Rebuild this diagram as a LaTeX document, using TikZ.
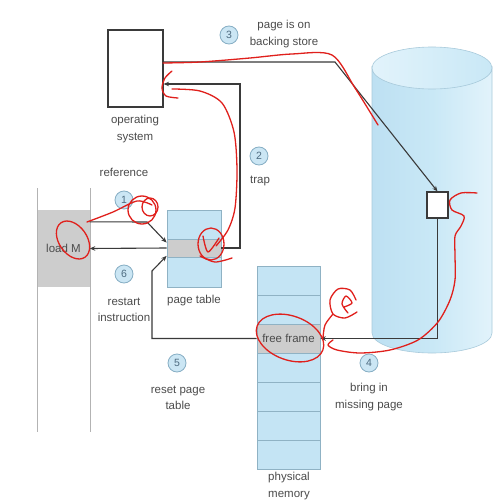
\documentclass[tikz,border=0pt]{standalone}
\usepackage{fontspec}
\setmainfont{Liberation Sans}
\usetikzlibrary{arrows.meta,calc}
\definecolor{txt}{HTML}{4c4c4c}
\definecolor{lineclr}{HTML}{3a3a3a}
\definecolor{numfill}{HTML}{cbe6f4}
\definecolor{numdraw}{HTML}{86aec4}
\definecolor{numtxt}{HTML}{4d6b80}
\definecolor{ptfill}{HTML}{c4e4f4}
\definecolor{ptdraw}{HTML}{8fb2c4}
\definecolor{grayfill}{HTML}{cdcdcd}
\definecolor{progline}{HTML}{b3b3b3}
\definecolor{cylA}{HTML}{bde0f2}
\definecolor{cylB}{HTML}{e2f3fb}
\definecolor{cylC}{HTML}{c9e8f6}
\definecolor{cyldraw}{HTML}{a8cadb}
\definecolor{scrib}{HTML}{e0201c}
\tikzset{
  lbl/.style={font=\fontsize{11.5}{16.5}\selectfont, text=txt, align=center, inner sep=0pt},
  stepnum/.style={circle, draw=numdraw, fill=numfill, line width=0.8pt, minimum size=18pt, inner sep=0pt, font=\fontsize{10.5}{10.5}\selectfont, text=numtxt},
  conn/.style={draw=lineclr, line width=1.1pt},
  arr/.style={conn, -{Stealth[length=5.5pt,width=4.5pt]}},
  boxline/.style={draw=lineclr, line width=1.1pt, fill=white},
  ptcell/.style={draw=ptdraw, fill=ptfill, line width=0.8pt, inner sep=0pt},
  graycell/.style={draw=ptdraw, fill=grayfill, line width=0.8pt, inner sep=0pt},
  scribble/.style={draw=scrib, line width=1.3pt, line cap=round, line join=round}
}
\begin{document}
\begin{tikzpicture}[x=1pt,y=-1pt]
\useasboundingbox[fill=white] (0,0) rectangle (493,503);

% backing store cylinder
\path[left color=cylA, right color=cylB, middle color=cylC, draw=cyldraw, line width=0.6pt]
  (372,68) -- (372,333) arc[start angle=180,end angle=0,x radius=60,y radius=20]
  -- (492,68) arc[start angle=0,end angle=180,x radius=60,y radius=20] -- cycle;
\path[left color=cylB, right color=cylC, draw=cyldraw, line width=0.6pt]
  (432,68) ellipse[x radius=60,y radius=21];

% operating system
\node[boxline, minimum width=55pt, minimum height=77pt, inner sep=0pt] (os) at (135.5,68.5) {};
\node[lbl] (oslbl) at (135,129) {operating\\system};

% program
\draw[progline, line width=0.9pt] (37,188) -- (37,432);
\draw[progline, line width=0.9pt] (90,188) -- (90,432);
\node[fill=grayfill, minimum width=52pt, minimum height=77pt, inner sep=0pt,
      font=\fontsize{11.5}{14}\selectfont, text=txt] (loadm) at (63.5,248.5) {load M};

% page table
\node[ptcell, minimum width=54pt, minimum height=77pt] (pt) at (194,248.5) {};
\node[graycell, minimum width=54pt, minimum height=18pt] (ptrow) at (194,248) {};
\node[lbl] (ptlbl) at (194,301) {page table};

% physical memory
\foreach \i in {0,...,6}{
  \node[ptcell, minimum width=63pt, minimum height=29pt] (m\i) at (288.5,{280.5+29*\i}) {};
}
\node[graycell, minimum width=63pt, minimum height=29pt, font=\fontsize{11.5}{14}\selectfont, text=txt] (ff) at (m2) {free frame};
\node[lbl] (memlbl) at (289,486) {physical\\memory};

% page on disk
\node[boxline, minimum width=21pt, minimum height=26pt, inner sep=0pt] (dbox) at (437.5,205) {};

% connectors
\draw[arr] ($(loadm.north east)+(0,12)$) -- (147,222) -- ($(ptrow.north west)+(0,4)$);
\draw[arr] (ptrow.east) -- (240,248) -- (240,84) -- ($(os.east)+(0,15.5)$);
\draw[arr] ($(os.east)+(0,-6.5)$) -- (335,62) -- (dbox.north);
\draw[arr] (dbox.south) |- (ff.east);
\draw[arr] (ff.west) -- (152,338.5) -- (152,271) -- ($(ptrow.south west)+(0,-1.5)$);
\draw[arr] (ptrow.west) -- (loadm.east);

% step labels
\node[stepnum] (n1) at (124,200) {1};
\node[lbl] (l1) at (124,172) {reference};
\node[stepnum] (n2) at (259,156) {2};
\node[lbl] (l2) at (260,181) {trap};
\node[stepnum] (n3) at (229,35) {3};
\node[lbl] (l3) at (284,34) {page is on\\backing store};
\node[stepnum] (n4) at (369,363) {4};
\node[lbl] (l4) at (369,397) {bring in\\missing page};
\node[stepnum] (n5) at (177,363) {5};
\node[lbl] (l5) at (178,398) {reset page\\table};
\node[stepnum] (n6) at (124,274) {6};
\node[lbl] (l6) at (124,310) {restart\\instruction};

% red hand-drawn annotations
\draw[scribble] plot[smooth] coordinates {(163,63) (200,62) (250,58) (292,54) (332,55) (355,88) (378,125)};
\draw[scribble] plot[smooth] coordinates {(172,71) (165,78) (162,88) (166,96) (178,98)};
\draw[scribble] plot[smooth] coordinates {(172,89) (200,91) (222,103) (234,132) (237,170) (235,208) (228,230) (216,246)};
\draw[scribble] (211,244) ellipse[x radius=13,y radius=16];
\draw[scribble] plot[smooth] coordinates {(203,236) (208,252) (219,238)};
\draw[scribble] plot[smooth] coordinates {(200,256) (215,262) (232,258)};
\draw[scribble] plot[smooth] coordinates {(87,222) (113,212) (137,201) (152,205)};
\draw[scribble] (142,210) ellipse[x radius=14,y radius=14];
\draw[scribble] (150,207) ellipse[x radius=8,y radius=9];
\draw[scribble, rotate around={35:(73,240)}] (73,240) ellipse[x radius=14,y radius=21];
\draw[scribble] plot[smooth] coordinates {(477,193) (461,193) (450,200) (452,210) (464,216) (461,226) (455,236) (455,255) (455,280) (450,300) (438,322) (418,340) (390,350) (360,353) (337,350) (328,345) (333,340)};
\draw[scribble, rotate around={-20:(290,338)}] (290,338) ellipse[x radius=35,y radius=22];
\draw[scribble] plot[smooth] coordinates {(356,300) (350,290) (338,289) (330,300) (333,314) (345,318) (357,312)};
\draw[scribble] plot[smooth] coordinates {(348,313) (342,304) (346,296) (352,303) (344,307)};
\draw[scribble] plot[smooth] coordinates {(333,314) (325,325) (323,338)};
\end{tikzpicture}
\end{document}
